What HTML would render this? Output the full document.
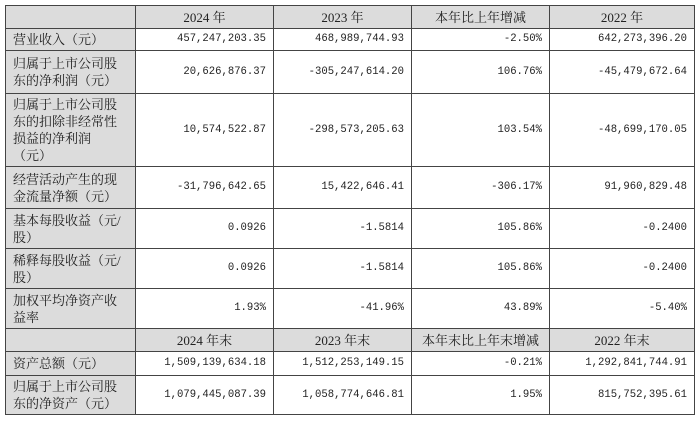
<!DOCTYPE html>
<html><head><meta charset="utf-8"><style>
body{margin:0;background:#fff;width:700px;height:421px;overflow:hidden;font-family:"Liberation Serif","Noto Serif CJK SC",serif;}
table{position:absolute;left:5px;top:5px;border-collapse:collapse;table-layout:fixed;}
td{border:1px solid #444;font-size:13px;line-height:17px;padding:0 7px;color:#222;overflow:hidden;white-space:nowrap;}
td.l{background:#dcdcdc;text-align:left;}
td.n{text-align:right;font-family:"Liberation Mono","Noto Serif CJK SC",monospace;font-size:10.6px;}
tr.h td{background:#dcdcdc;text-align:center;}
</style></head><body>
<table>
<colgroup><col style="width:130px"><col style="width:138px"><col style="width:138px"><col style="width:138px"><col style="width:145px"></colgroup>
<tr class="h" style="height:23px"><td></td><td>2024 年</td><td>2023 年</td><td>本年比上年增减</td><td>2022 年</td></tr>
<tr style="height:22px"><td class="l">营业收入（元）</td><td class="n">457,247,203.35</td><td class="n">468,989,744.93</td><td class="n">-2.50%</td><td class="n">642,273,396.20</td></tr>
<tr style="height:43px"><td class="l">归属于上市公司股<br>东的净利润（元）</td><td class="n">20,626,876.37</td><td class="n">-305,247,614.20</td><td class="n">106.76%</td><td class="n">-45,479,672.64</td></tr>
<tr style="height:73px"><td class="l">归属于上市公司股<br>东的扣除非经常性<br>损益的净利润<br>（元）</td><td class="n">10,574,522.87</td><td class="n">-298,573,205.63</td><td class="n">103.54%</td><td class="n">-48,699,170.05</td></tr>
<tr style="height:42px"><td class="l">经营活动产生的现<br>金流量净额（元）</td><td class="n">-31,796,642.65</td><td class="n">15,422,646.41</td><td class="n">-306.17%</td><td class="n">91,960,829.48</td></tr>
<tr style="height:40px"><td class="l">基本每股收益（元/<br>股）</td><td class="n">0.0926</td><td class="n">-1.5814</td><td class="n">105.86%</td><td class="n">-0.2400</td></tr>
<tr style="height:40px"><td class="l">稀释每股收益（元/<br>股）</td><td class="n">0.0926</td><td class="n">-1.5814</td><td class="n">105.86%</td><td class="n">-0.2400</td></tr>
<tr style="height:40px"><td class="l">加权平均净资产收<br>益率</td><td class="n">1.93%</td><td class="n">-41.96%</td><td class="n">43.89%</td><td class="n">-5.40%</td></tr>
<tr class="h" style="height:23px"><td></td><td>2024 年末</td><td>2023 年末</td><td>本年末比上年末增减</td><td>2022 年末</td></tr>
<tr style="height:24px"><td class="l">资产总额（元）</td><td class="n">1,509,139,634.18</td><td class="n">1,512,253,149.15</td><td class="n">-0.21%</td><td class="n">1,292,841,744.91</td></tr>
<tr style="height:39px"><td class="l">归属于上市公司股<br>东的净资产（元）</td><td class="n">1,079,445,087.39</td><td class="n">1,058,774,646.81</td><td class="n">1.95%</td><td class="n">815,752,395.61</td></tr>
</table>
</body></html>
